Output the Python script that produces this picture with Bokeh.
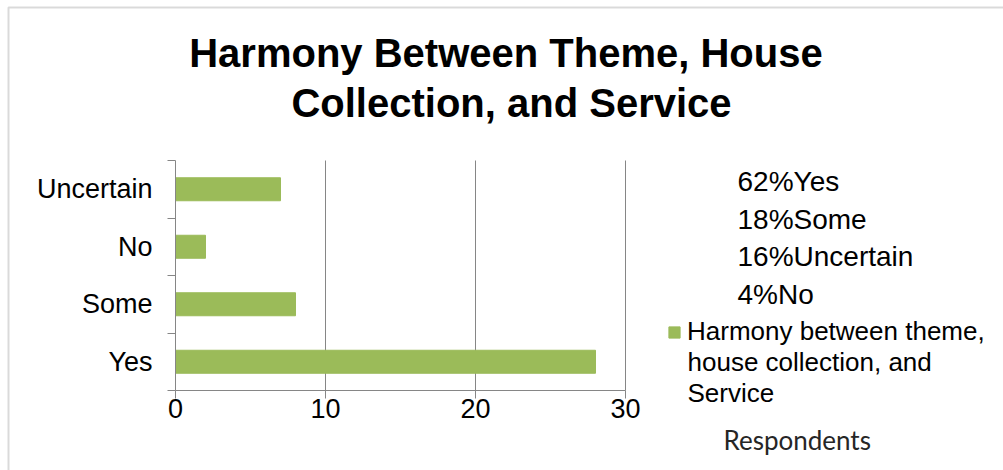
from bokeh.plotting import figure
from bokeh.models import (Range1d, FixedTicker, Label, Legend, LegendItem,
                          BoxAnnotation, ColumnDataSource, LinearAxis)
from bokeh.embed import file_html
from bokeh.resources import INLINE

# ---- data ----
categories = ["Yes", "Some", "No", "Uncertain"]
respondents = [28, 8, 2, 7]
x_ticks = [0, 10, 20, 30]
title_lines = ["Harmony Between  Theme, House", "Collection, and Service"]
share_labels = ["62%Yes", "18%Some", "16%Uncertain", "4%No"]
series_lines = ["Harmony between theme,", "house collection, and", "Service"]
axis_title = "Respondents"

BAR = "#9BBB59"
GRID = "#868686"
FONT = "Liberation Sans"

W, H = 1003, 470
# plotting-area placement inside the canvas (px)
PL, PR, PT, PB = 175, 625, 160, 390
xs = (PR - PL) / x_ticks[-1]          # px per respondent
ys = (PB - PT) / len(categories)       # px per category

p = figure(width=W, height=H, output_backend="svg", toolbar_location=None,
           x_axis_location=None, y_axis_location=None, min_border=0,
           x_range=Range1d(-PL / xs, (W - PL) / xs),
           y_range=Range1d(-(H - PB) / ys, PB / ys))
p.outline_line_color = None
p.background_fill_color = "white"
p.border_fill_color = "white"
p.xgrid.visible = False
p.ygrid.visible = False

ypos = [i + 0.5 for i in range(len(categories))]
ncat = len(categories)

# vertical gridlines at the value ticks
p.segment(x0=x_ticks[1:], x1=x_ticks[1:], y0=[0] * (len(x_ticks) - 1),
          y1=[ncat] * (len(x_ticks) - 1), line_color=GRID, line_width=1)

src = ColumnDataSource(dict(y=ypos, right=respondents, cat=categories))
bars = p.hbar(y="y", right="right", left=0, height=0.4, source=src,
              fill_color=BAR, line_color=BAR)

# x axis
xax = LinearAxis(fixed_location=0, bounds=(x_ticks[0], x_ticks[-1]),
                 ticker=FixedTicker(ticks=x_ticks))
xax.axis_line_color = GRID
xax.major_tick_line_color = GRID
xax.major_tick_out = 8
xax.major_tick_in = 0
xax.minor_tick_line_color = None
xax.major_label_standoff = 0
xax.major_label_text_font = FONT
xax.major_label_text_font_size = "27px"
xax.major_label_text_color = "black"
p.add_layout(xax, "below")

# y axis: labels at centres, ticks at category boundaries
yax = LinearAxis(fixed_location=0, bounds=(0, ncat),
                 ticker=FixedTicker(ticks=ypos, minor_ticks=list(range(ncat + 1))))
yax.major_label_overrides = {v: c for v, c in zip(ypos, categories)}
yax.axis_line_color = GRID
yax.major_tick_line_color = None
yax.major_tick_out = 0
yax.major_tick_in = 0
yax.minor_tick_line_color = GRID
yax.minor_tick_out = 8
yax.minor_tick_in = 0
yax.major_label_standoff = 15
yax.major_label_text_font = FONT
yax.major_label_text_font_size = "27px"
yax.major_label_text_color = "black"
p.add_layout(yax, "left")

def lab(text, x, base, size="26px", font=FONT, style="normal", align="left", color="black"):
    p.add_layout(Label(x=x, y=H - base, x_units="screen", y_units="screen",
                       text=text, text_align=align, text_baseline="alphabetic",
                       text_font=font, text_font_style=style,
                       text_font_size=size, text_color=color))

# title (two lines, centred)
for line, base in zip(title_lines, [52, 102]):
    lab(line, 511, base, size="40px", style="bold", align="center")

# percentage lines
for i, s in enumerate(share_labels):
    lab(s, 737, 181 + i * 37.7, size="28px")

# legend continuation lines
for i, s in enumerate(series_lines[1:]):
    lab(s, 687, 361 + i * 31)

# axis title at right
lab(axis_title, 723, 439, size="26px", font="Lato", color="#262626")

legend = Legend(items=[LegendItem(label=series_lines[0], renderers=[bars])],
                location=(667, H - 347), padding=0, margin=0, spacing=0,
                glyph_width=14, glyph_height=14, label_standoff=6,
                border_line_color=None, background_fill_alpha=0,
                label_text_font=FONT, label_text_font_size="26px",
                label_text_color="black")
p.add_layout(legend)

# outer chart border (top and left visible)
p.add_layout(BoxAnnotation(left=8, right=W + 50, top=H - 7, bottom=-50,
                           left_units="screen", right_units="screen",
                           top_units="screen", bottom_units="screen",
                           fill_alpha=0, line_color=GRID, line_width=2))

open("out.html", "w").write(file_html(p, INLINE))
